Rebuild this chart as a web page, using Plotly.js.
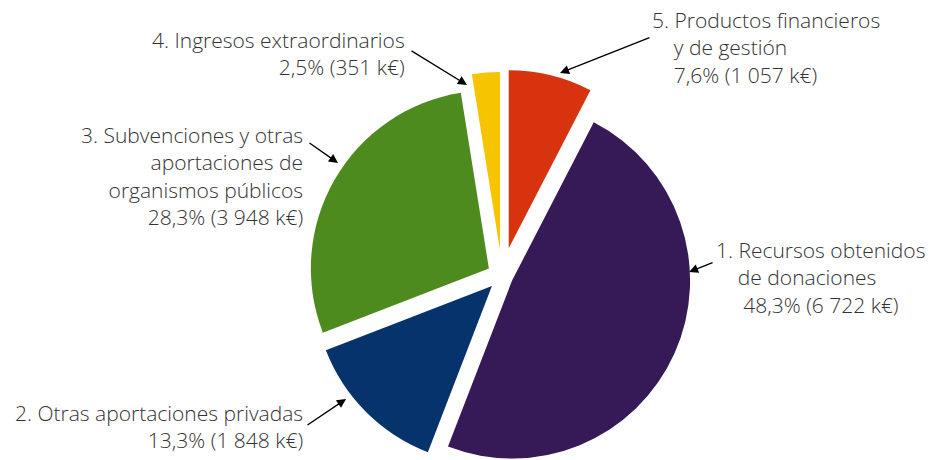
<!DOCTYPE html>
<html>
<head>
<meta charset="utf-8">
<script src="https://cdn.plot.ly/plotly-3.0.1.min.js"></script>
<style>
html, body { margin: 0; padding: 0; width: 933px; height: 460px; overflow: hidden; background: #fff; }
#chart { width: 933px; height: 552px; }
</style>
</head>
<body>
<div id="chart"></div>
<script>
// Data (clockwise from 12 o'clock)
const labels = [
  '5. Productos financieros y de gestión',
  '1. Recursos obtenidos de donaciones',
  '2. Otras aportaciones privadas',
  '3. Subvenciones y otras aportaciones de organismos públicos',
  '4. Ingresos extraordinarios'
];
const values = [1057, 6722, 1848, 3948, 351];
const percentLabels = ['7,6%', '48,3%', '13,3%', '28,3%', '2,5%'];
const valueLabels = ['1 057 k€', '6 722 k€', '1 848 k€', '3 948 k€', '351 k€'];
const colors = ['#d8330f', '#351a57', '#06336b', '#4e8b1f', '#f6c400'];
const pulls = [0.16, 0.062, 0.08, 0.085, 0.146];

// Annotation text
const annTexts = [
  '5. Productos financieros<br>&nbsp;&nbsp;&nbsp;&nbsp;y de gestión<br>&nbsp;&nbsp;&nbsp;&nbsp;' + percentLabels[0] + ' (' + valueLabels[0] + ')',
  '1. Recursos obtenidos<br>&nbsp;&nbsp;&nbsp;&nbsp;de donaciones<br>&nbsp;&nbsp;&nbsp;&nbsp;&nbsp;' + percentLabels[1] + ' (' + valueLabels[1] + ')',
  '2. Otras aportaciones privadas<br>' + percentLabels[2] + ' (' + valueLabels[2] + ')',
  '3. Subvenciones y otras<br>aportaciones de<br>organismos públicos<br>' + percentLabels[3] + ' (' + valueLabels[3] + ')',
  '4. Ingresos extraordinarios<br>' + percentLabels[4] + ' (' + valueLabels[4] + ')'
];

const W = 933, H = 552;
const px = x => x / W;
const py = y => 1 - y / H;

// text block placement [x, y(middle), anchor]
const textPos = [
  [650, 47.5, 'left'],
  [714, 277.5, 'left'],
  [305, 426, 'right'],
  [305, 176, 'right'],
  [407, 53.5, 'right']
];
// arrows: [tailX, tailY, headX, headY]
const arrows = [
  [651, 37, 560, 73],
  [714, 262, 689, 272],
  [306, 426, 346, 399],
  [308, 142, 338, 163],
  [410, 50, 467, 85]
];

const font = { family: 'Open Sans, sans-serif', size: 21, color: '#333333', weight: 300 };

const annotations = [];
textPos.forEach((p, i) => {
  annotations.push({
    xref: 'paper', yref: 'paper', x: px(p[0]), y: py(p[1]),
    xanchor: p[2], yanchor: 'middle', align: p[2],
    text: annTexts[i], showarrow: false, font: font
  });
});
arrows.forEach(a => {
  annotations.push({
    xref: 'paper', yref: 'paper', x: px(a[2]), y: py(a[3]),
    ax: a[0] - a[2], ay: a[1] - a[3], axref: 'pixel', ayref: 'pixel',
    text: '', showarrow: true, arrowhead: 2, arrowsize: 1.3, arrowwidth: 1.4,
    arrowcolor: '#000000', standoff: 0, startstandoff: 0
  });
});

const trace = {
  type: 'pie',
  labels: labels,
  values: values,
  sort: false,
  direction: 'clockwise',
  rotation: 0,
  pull: pulls,
  marker: { colors: colors, line: { width: 0 } },
  textinfo: 'none',
  hoverinfo: 'label+value+percent',
  showlegend: false,
  domain: { x: [(502 - 206.5) / W, (502 + 206.5) / W], y: [0, 1] }
};

const layout = {
  width: W, height: H,
  margin: { l: 0, r: 0, t: 0, b: 0 },
  paper_bgcolor: '#ffffff',
  showlegend: false,
  annotations: annotations
};

Plotly.newPlot('chart', [trace], layout, { displayModeBar: false, staticPlot: true });
</script>
</body>
</html>
